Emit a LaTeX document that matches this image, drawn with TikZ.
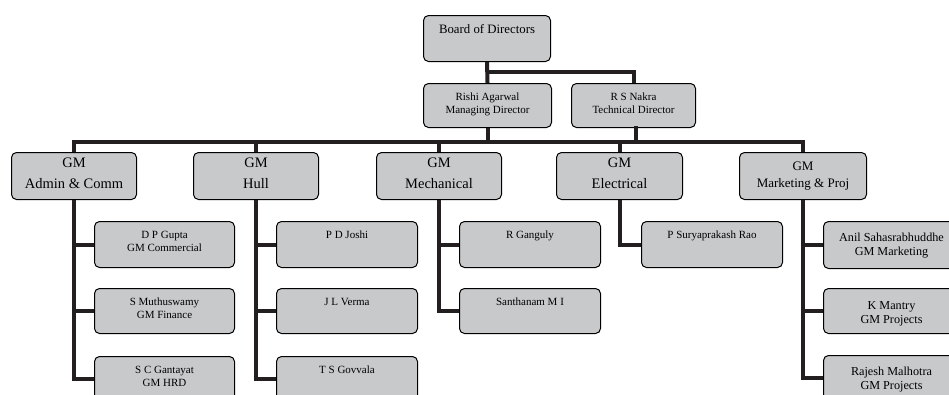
\documentclass[tikz,border=0pt]{standalone}
\usepackage{fontspec}
\setmainfont{Liberation Serif}
\definecolor{boxgray}{RGB}{200,201,203}
\definecolor{linedark}{RGB}{35,31,32}
\begin{document}
\begin{tikzpicture}[x=1pt,y=-1pt,
  box/.style={draw=black, line width=1pt, fill=boxgray, rounded corners=5pt,
    inner sep=0pt, align=center, anchor=north west},
  topf/.style={font=\fontsize{11}{13.3}\selectfont},
  gmf/.style={font=\fontsize{14.5}{21}\selectfont},
  mgmf/.style={font=\fontsize{13}{16.6}\selectfont},
  subf/.style={font=\fontsize{11}{13}\selectfont},
  msubf/.style={font=\fontsize{12.2}{14.2}\selectfont},
  conn/.style={draw=linedark, line width=4pt, line join=miter},
]
\useasboundingbox (0,0) rectangle (949,394);
\clip (0,0) rectangle (949,394);

% top level
\node[box, font=\fontsize{12.8}{15}\selectfont, minimum width=127pt, text height=18.3pt, text depth=27.7pt] (board) at (423,15) {Board of Directors};
\node[box, topf, minimum width=128pt, text height=30.3pt, text depth=13.7pt] (rishi) at (423,83) {Rishi Agarwal\\Managing Director};
\node[box, topf, minimum width=124pt, text height=30.3pt, text depth=13.7pt] (nakra) at (571,83) {R S Nakra\\Technical Director};

% GM level
\node[box, gmf, minimum width=125pt, text height=36.3pt, text depth=10.7pt] (admin) at (11,152) {GM\\Admin \& Comm};
\node[box, gmf, minimum width=125pt, text height=36.3pt, text depth=10.7pt] (hull) at (193,152) {GM\\Hull};
\node[box, gmf, minimum width=125pt, text height=36.3pt, text depth=10.7pt] (mech) at (376,152) {GM\\Mechanical};
\node[box, gmf, minimum width=126pt, text height=36.3pt, text depth=10.7pt] (elec) at (556,152) {GM\\Electrical};
\node[box, mgmf, minimum width=127pt, text height=34.6pt, text depth=12.4pt] (mkt) at (739,152) {GM\\Marketing \& Proj};

% admin subs
\node[box, subf, minimum width=140pt, text height=29.7pt, text depth=16.3pt] (a1) at (94,221) {D P Gupta\\GM Commercial};
\node[box, subf, minimum width=140pt, text height=29.7pt, text depth=15.3pt] (a2) at (94,288) {S Muthuswamy\\GM Finance};
\node[box, subf, minimum width=140pt, text height=29.7pt, text depth=15.3pt] (a3) at (94,356) {S C Gantayat\\GM HRD};
% hull subs
\node[box, subf, minimum width=141pt, text height=16.7pt, text depth=29.3pt] (h1) at (276,221) {P D Joshi};
\node[box, subf, minimum width=141pt, text height=16.7pt, text depth=28.3pt] (h2) at (276,288) {J L Verma};
\node[box, subf, minimum width=141pt, text height=16.7pt, text depth=28.3pt] (h3) at (276,356) {T S Govvala};
% mech subs
\node[box, subf, minimum width=141pt, text height=16.7pt, text depth=29.3pt] (c1) at (459,221) {R Ganguly};
\node[box, subf, minimum width=141pt, text height=16.7pt, text depth=28.3pt] (c2) at (459,288) {Santhanam M I};
% elec sub
\node[box, subf, minimum width=141pt, text height=16.7pt, text depth=29.3pt] (e1) at (641,221) {P Suryaprakash Rao};
% marketing subs
\node[box, msubf, minimum width=136pt, text height=33.9pt, text depth=13.1pt] (m1) at (823,221) {Anil Sahasrabhuddhe\\GM Marketing};
\node[box, msubf, minimum width=136pt, text height=34.9pt, text depth=10.1pt] (m2) at (823,288) {K Mantry\\GM Projects};
\node[box, msubf, minimum width=136pt, text height=34.2pt, text depth=10.8pt] (m3) at (823,355) {Rajesh Malhotra\\GM Projects};

% connectors
\coordinate (tbar) at (0,72);
\coordinate (mbar) at (0,142);
\draw[conn] (board.south) -- (rishi.north);
\draw[conn] (board.south |- tbar) -| (nakra.north);
\draw[conn] (rishi.south) -- (rishi.south |- mbar);
\coordinate (nk) at ([xshift=2.5pt,yshift=2pt]nakra.south);
\draw[conn] (nk) -- ([yshift=-1.5pt]nk |- mbar);
\draw[conn] (admin.north) -- (admin.north |- mbar) -- (mkt.north |- mbar) -- (mkt.north);
\draw[conn] (hull.north) -- (hull.north |- mbar);
\draw[conn] (mech.north) -- (mech.north |- mbar);
\draw[conn] (elec.north) -- (elec.north |- mbar);

\draw[conn] (admin.south) |- (a3.west);
\draw[conn] (admin.south |- a1.west) -- (a1.west);
\draw[conn] (admin.south |- a2.west) -- (a2.west);
\draw[conn] (hull.south) |- (h3.west);
\draw[conn] (hull.south |- h1.west) -- (h1.west);
\draw[conn] (hull.south |- h2.west) -- (h2.west);
\draw[conn] (mech.south) |- (c2.west);
\draw[conn] (mech.south |- c1.west) -- (c1.west);
\draw[conn] (elec.south) |- (e1.west);
\draw[conn] (mkt.south) |- (m3.west);
\draw[conn] (mkt.south |- m1.west) -- (m1.west);
\draw[conn] (mkt.south |- m2.west) -- (m2.west);
\end{tikzpicture}
\end{document}
